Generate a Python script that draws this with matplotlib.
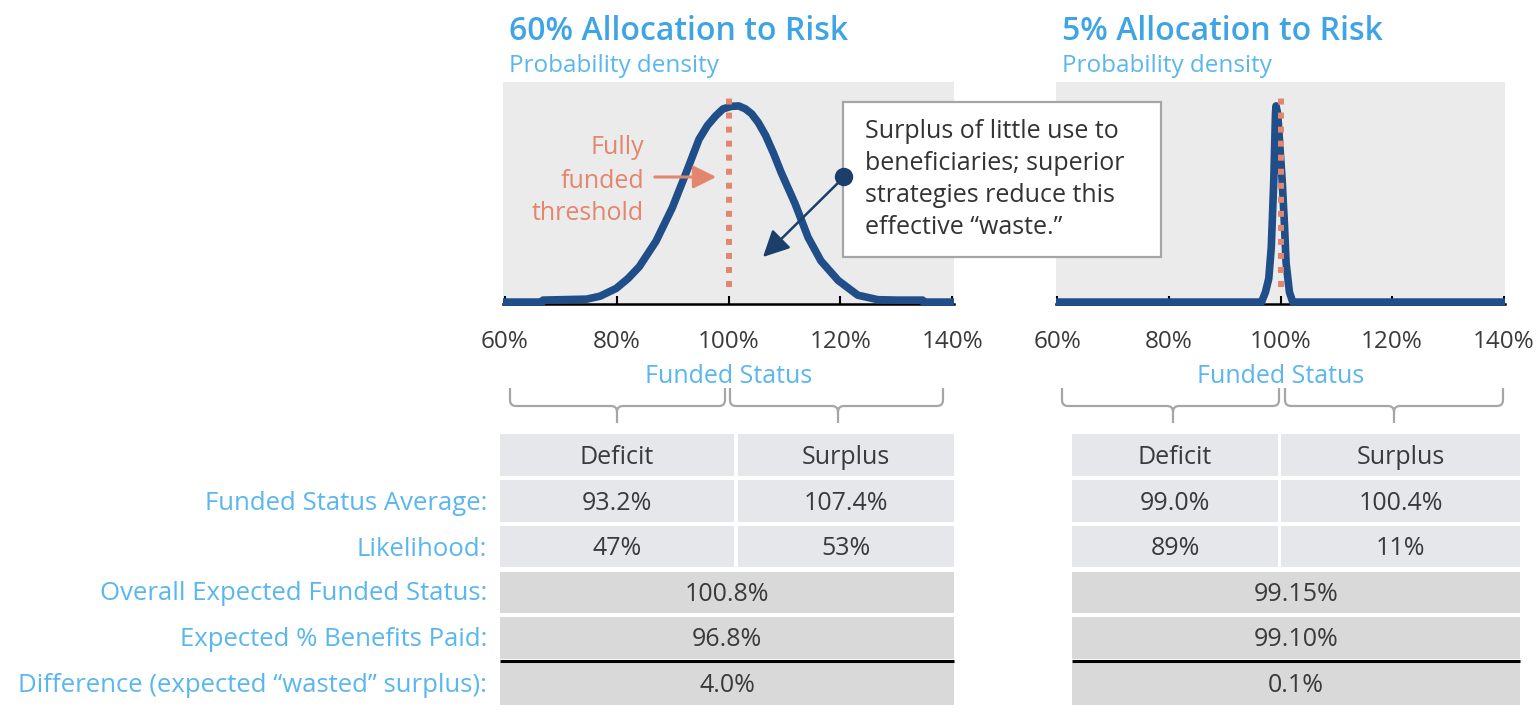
import matplotlib.pyplot as plt
from matplotlib.path import Path
from matplotlib.patches import PathPatch, Rectangle, FancyArrowPatch, Circle

plt.rcParams['font.family'] = ['Open Sans', 'DejaVu Sans']

# ---- data ----
ticks = [60, 80, 100, 120, 140]
tick_labels = ['60%', '80%', '100%', '120%', '140%']
threshold = 100

titles = ['60% Allocation to Risk', '5% Allocation to Risk']

# probability density (scaled so the peak = 1)
risk60_x = [59.6, 66.7, 66.8, 74.6, 77.0, 79.9, 82.0, 84.0, 87.0, 89.9, 92.4, 94.7, 96.2,
            97.7, 99.0, 100.5, 101.8, 103.0, 104.1, 105.3, 106.6, 108.0, 109.4, 111.9, 114.2,
            116.5, 119.6, 123.1, 126.7, 130.2, 134.7, 134.8, 140.3]
risk60_y = [0.0, 0.0, 0.01, 0.015, 0.03, 0.07, 0.12, 0.18, 0.31, 0.48, 0.66, 0.83, 0.90,
            0.95, 0.985, 0.998, 1.0, 0.985, 0.96, 0.915, 0.85, 0.76, 0.66, 0.5, 0.33,
            0.21, 0.11, 0.035, 0.012, 0.01, 0.01, 0.0, 0.0]

risk5_x = [59.8, 96.6, 97.3, 97.9, 98.35, 98.8, 99.1, 99.2, 99.5, 100.3, 100.7, 101.0,
           101.6, 102.2, 140.2]
risk5_y = [0.0, 0.0, 0.05, 0.12, 0.28, 0.62, 0.96, 1.0, 0.96, 0.62, 0.40, 0.20,
           0.05, 0.0, 0.0]

col_labels = ['Deficit', 'Surplus']
row_labels = ['Funded Status Average:', 'Likelihood:', 'Overall Expected Funded Status:',
              'Expected % Benefits Paid:', 'Difference (expected \u201cwasted\u201d surplus):']
risk60_avg = ['93.2%', '107.4%']
risk60_like = ['47%', '53%']
risk60_overall = ['100.8%', '96.8%', '4.0%']
risk5_avg = ['99.0%', '100.4%']
risk5_like = ['89%', '11%']
risk5_overall = ['99.15%', '99.10%', '0.1%']

callout = ['Surplus of little use to', 'beneficiaries; superior',
           'strategies reduce this', 'effective \u201cwaste.\u201d']
threshold_label = ['Fully', 'funded', 'threshold']

# ---- styling ----
W, H = 1536, 721
navy = '#1F4E89'
salmon = '#E3866D'
title_blue = '#3FA4E4'
light_blue = '#5AB6EE'
dark_text = '#3A3A3A'
fs = 18


def frac(x0, y0, x1, y1):
    return [x0 / W, 1 - y1 / H, (x1 - x0) / W, (y1 - y0) / H]


fig = plt.figure(figsize=(W / 100, H / 100), dpi=100)

ax1 = fig.add_axes(frac(503, 82, 954, 306))
ax2 = fig.add_axes(frac(1056, 82, 1505, 306))

for ax, xs, ys, xlim in [(ax1, risk60_x, risk60_y, (59.64, 140.3)),
                         (ax2, risk5_x, risk5_y, (59.8, 140.2))]:
    ax.set_facecolor('#EBEBEB')
    ax.plot(xs, ys, color=navy, lw=5.5, solid_joinstyle='round', zorder=3)
    ax.plot([threshold, threshold], [0.076, 1.076], color=salmon, lw=4.3,
            dashes=(1, 1.35), dash_capstyle='butt', zorder=4)
    ax.set_xlim(*xlim)
    ax.set_ylim(-0.02, 1.122)
    ax.set_yticks([])
    ax.set_xticks(ticks, tick_labels)
    ax.tick_params(axis='x', direction='in', length=6, width=1.5, color='black',
                   labelsize=17.5, labelcolor=dark_text, pad=19)
    for s in ['top', 'left', 'right']:
        ax.spines[s].set_visible(False)
    ax.spines['bottom'].set_position(('data', -0.01))
    ax.spines['bottom'].set_linewidth(1.8)
    ax.set_xlabel('Funded Status', color=light_blue, fontsize=fs, labelpad=7)

# overlay in pixel coordinates for titles, braces, table and callouts
ox = fig.add_axes([0, 0, 1, 1], zorder=5)
ox.set_xlim(0, W)
ox.set_ylim(H, 0)
ox.axis('off')

for x, t in [(509, titles[0]), (1062, titles[1])]:
    ox.text(x, 40, t, color=title_blue, fontsize=23, fontweight='semibold', va='baseline')
    ox.text(x, 72, 'Probability density', color=light_blue, fontsize=17.5, va='baseline')


def brace(xa, xb, xm):
    r = 6
    verts = [(xa, 388), (xa, 400), (xa, 406), (xa + r, 406), (xm - r, 406), (xm, 406), (xm, 412),
             (xm, 423),
             (xm, 412), (xm, 406), (xm + r, 406), (xb - r, 406), (xb, 406), (xb, 400), (xb, 388)]
    codes = [Path.MOVETO, Path.LINETO, Path.CURVE3, Path.CURVE3, Path.LINETO, Path.CURVE3, Path.CURVE3,
             Path.LINETO,
             Path.MOVETO, Path.CURVE3, Path.CURVE3, Path.LINETO, Path.CURVE3, Path.CURVE3, Path.LINETO]
    ox.add_patch(PathPatch(Path(verts, codes), fill=False, edgecolor='#A6A6A6', lw=1.6))


brace(510, 725, 617)
brace(730, 943, 838)
brace(1062, 1279, 1173)
brace(1285, 1503, 1394)


def table(x0, xm0, xm1, x1, avg, like, overall):
    light = '#E6E7EA'
    mid = '#D9D9D9'
    rows_small = [(434, 476, col_labels), (480, 522, avg), (526, 567, like)]
    for y0, y1, vals in rows_small:
        ox.add_patch(Rectangle((x0, y0), xm0 - x0, y1 - y0, color=light, lw=0))
        ox.add_patch(Rectangle((xm1, y0), x1 - xm1, y1 - y0, color=light, lw=0))
        ox.text((x0 + xm0) / 2, (y0 + y1) / 2 + 2, vals[0], ha='center', va='center',
                fontsize=fs, color=dark_text)
        ox.text((xm1 + x1) / 2, (y0 + y1) / 2 + 2, vals[1], ha='center', va='center',
                fontsize=fs, color=dark_text)
    rows_wide = [(572, 613), (617, 659), (663, 705)]
    for (y0, y1), v in zip(rows_wide, overall):
        ox.add_patch(Rectangle((x0, y0), x1 - x0, y1 - y0, color=mid, lw=0))
        ox.text((x0 + x1) / 2, (y0 + y1) / 2 + 2, v, ha='center', va='center',
                fontsize=fs, color=dark_text)
    ox.plot([x0, x1], [660.5, 660.5], color='black', lw=2.2, solid_capstyle='butt')


table(500, 734, 738, 954, risk60_avg, risk60_like, risk60_overall)
table(1072, 1278, 1281, 1520, risk5_avg, risk5_like, risk5_overall)

for y, lab in zip([503, 549, 594, 640, 686], row_labels):
    ox.text(487, y, lab, ha='right', va='center', fontsize=18.5, color=light_blue)

# fully funded threshold note
for y, t in zip([148, 181, 213], threshold_label):
    ox.text(644, y, t, ha='right', va='center', fontsize=fs, color=salmon)
ox.add_patch(FancyArrowPatch((652, 177), (719, 177), arrowstyle='-|>,head_length=0.7,head_width=0.35',
                             mutation_scale=20, color=salmon, lw=2.2))

# callout box
ox.add_patch(Rectangle((843, 102), 318, 155, facecolor='white', edgecolor='#A5A5A5', lw=1.6))
for y, t in zip([132, 164, 196, 228], callout):
    ox.text(865, y, t, ha='left', va='center', fontsize=fs, color='#333333')
ox.add_patch(FancyArrowPatch((844, 177), (763, 257), arrowstyle='-|>,head_length=0.8,head_width=0.4',
                             mutation_scale=20, color='#1B3F6B', lw=1.8, shrinkA=0, shrinkB=0))
ox.add_patch(Circle((844, 177), 8.5, color='#1B3F6B', zorder=6))

fig.savefig('out.png', dpi=100)
